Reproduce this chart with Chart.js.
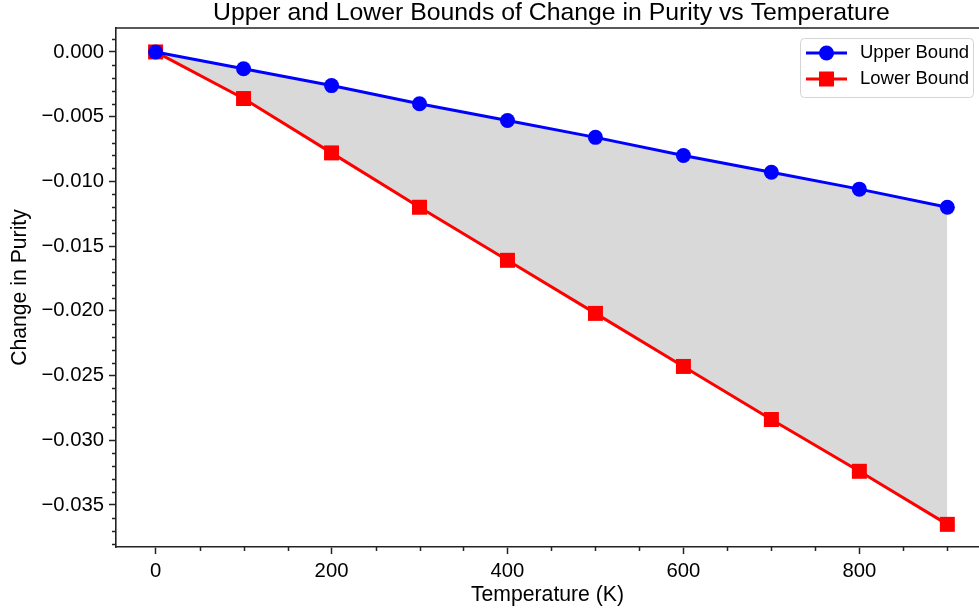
<!DOCTYPE html>
<html>
<head>
<meta charset="utf-8">
<script src="https://cdn.jsdelivr.net/npm/chart.js@4.4.1/dist/chart.umd.min.js"></script>
<style>
html,body{margin:0;padding:0;background:#fff;overflow:hidden;}
canvas{display:block;}
</style>
</head>
<body>
<canvas id="c" width="979" height="613"></canvas>
<script>
// ---- data ----
const temperatures = [0, 100, 200, 300, 400, 500, 600, 700, 800, 900];
const upperBound = [0, -0.0013, -0.0026, -0.0040, -0.0053, -0.0066, -0.0080, -0.0093, -0.0106, -0.0120];
const lowerBound = [0, -0.0036, -0.0078, -0.0120, -0.0161, -0.0202, -0.0243, -0.0284, -0.0324, -0.0365];
const xTickValues = [0, 200, 400, 600, 800];
const yTickValues = [0, -0.005, -0.010, -0.015, -0.020, -0.025, -0.030, -0.035];
const seriesNames = ['Upper Bound', 'Lower Bound'];
const titleText = 'Upper and Lower Bounds of Change in Purity vs Temperature';
const xLabel = 'Temperature (K)';
const yLabel = 'Change in Purity';

const FONT = '"Liberation Sans", Arial, Helvetica, sans-serif';
const AXIS_COLOR = '#222';
const X_MIN = -45, X_MAX_FULL = 945; // full axes extent (right spine lies past the window edge)

const toPts = (ys) => temperatures.map((t, i) => ({x: t, y: ys[i]}));

const fmtY = (v) => {
  const s = Math.abs(v).toFixed(3);
  return (v < -1e-12 ? '\u2212' : '') + s;
};

// title centred over the full axes
const axesTitle = {
  id: 'axesTitle',
  afterDraw(chart) {
    const ctx = chart.ctx;
    const xs = chart.scales.x;
    const cx = (xs.getPixelForValue(X_MIN) + xs.getPixelForValue(X_MAX_FULL)) / 2;
    ctx.save();
    ctx.fillStyle = '#000';
    ctx.font = '24.8px ' + FONT;
    ctx.textAlign = 'center';
    ctx.textBaseline = 'alphabetic';
    ctx.fillText(titleText, cx, chart.chartArea.top - 8);
    ctx.restore();
  }
};

// minor ticks + top spine
const minorTicks = {
  id: 'minorTicks',
  afterDraw(chart) {
    const ctx = chart.ctx;
    const xs = chart.scales.x, ys = chart.scales.y;
    const a = chart.chartArea;
    ctx.save();
    ctx.strokeStyle = AXIS_COLOR;
    ctx.lineWidth = 1.5;
    for (let v = -50; v <= 1000; v += 50) {
      if (v % 200 === 0) continue;
      const px = xs.getPixelForValue(v);
      if (px < a.left - 0.5 || px > a.right + 0.5) continue;
      ctx.beginPath();
      ctx.moveTo(Math.round(px) + 0.5, a.bottom);
      ctx.lineTo(Math.round(px) + 0.5, a.bottom + 4);
      ctx.stroke();
    }
    for (let k = -40; k <= 2; k++) {
      if (k % 5 === 0) continue;
      const v = k / 1000;
      const py = ys.getPixelForValue(v);
      if (py < a.top - 0.5 || py > a.bottom + 0.5) continue;
      ctx.beginPath();
      ctx.moveTo(a.left, Math.round(py) + 0.5);
      ctx.lineTo(a.left - 4, Math.round(py) + 0.5);
      ctx.stroke();
    }
    ctx.lineWidth = 1.6;
    ctx.beginPath();
    ctx.moveTo(a.left, a.top);
    ctx.lineTo(a.right, a.top);
    ctx.stroke();
    ctx.restore();
  }
};

// matplotlib-like legend
const mplLegend = {
  id: 'mplLegend',
  afterDraw(chart) {
    const ctx = chart.ctx;
    const a = chart.chartArea;
    const w = 173, h = 59;
    const x0 = a.right - 6 - w, y0 = a.top + 10;
    ctx.save();
    ctx.beginPath();
    ctx.roundRect(x0 + 0.5, y0 + 0.5, w, h, 4);
    ctx.fillStyle = 'rgba(255,255,255,0.8)';
    ctx.fill();
    ctx.strokeStyle = '#d4d4d4';
    ctx.lineWidth = 1;
    ctx.stroke();
    chart.data.datasets.forEach((ds, i) => {
      const cy = y0 + 15 + i * 26;
      const lx1 = x0 + 6, lx2 = x0 + 47, mx = (lx1 + lx2) / 2;
      ctx.strokeStyle = ds.borderColor;
      ctx.lineWidth = ds.borderWidth;
      ctx.beginPath();
      ctx.moveTo(lx1, cy);
      ctx.lineTo(lx2, cy);
      ctx.stroke();
      ctx.fillStyle = ds.pointBackgroundColor;
      if (ds.pointStyle === 'rect') {
        const s = ds.pointRadius * Math.SQRT1_2;
        ctx.fillRect(mx - s, cy - s, 2 * s, 2 * s);
      } else {
        ctx.beginPath();
        ctx.arc(mx, cy, ds.pointRadius, 0, Math.PI * 2);
        ctx.fill();
      }
      ctx.fillStyle = '#000';
      ctx.font = '18.5px ' + FONT;
      ctx.textBaseline = 'middle';
      ctx.textAlign = 'left';
      ctx.fillText(ds.label, x0 + 60, cy);
    });
    ctx.restore();
  }
};

new Chart(document.getElementById('c'), {
  type: 'line',
  data: {
    datasets: [
      {
        label: seriesNames[0],
        data: toPts(upperBound),
        borderColor: '#0000ff',
        backgroundColor: '#0000ff',
        pointBackgroundColor: '#0000ff',
        pointBorderColor: '#0000ff',
        pointBorderWidth: 0,
        borderWidth: 3,
        pointRadius: 7.5,
        pointHoverRadius: 7.5,
        pointStyle: 'circle',
        tension: 0,
        fill: false,
        clip: false
      },
      {
        label: seriesNames[1],
        data: toPts(lowerBound),
        borderColor: '#ff0000',
        backgroundColor: '#d9d9d9',
        pointBackgroundColor: '#ff0000',
        pointBorderColor: '#ff0000',
        pointBorderWidth: 0,
        borderWidth: 3,
        pointRadius: 10.6,
        pointHoverRadius: 10.6,
        pointStyle: 'rect',
        tension: 0,
        fill: '-1',
        clip: false
      }
    ]
  },
  options: {
    responsive: false,
    animation: false,
    devicePixelRatio: 1,
    layout: {autoPadding: false, padding: {left: 0, right: 0, top: 28, bottom: 0}},
    plugins: {
      legend: {display: false},
      tooltip: {enabled: false},
      filler: {drawTime: 'beforeDatasetsDraw'},
      title: {display: false}
    },
    scales: {
      x: {
        type: 'linear',
        min: X_MIN,
        max: 936,
        afterBuildTicks(scale) { scale.ticks = xTickValues.map(v => ({value: v})); },
        afterFit(scale) { scale.height = 66; scale.paddingLeft = 0; scale.paddingRight = 0; },
        grid: {drawOnChartArea: false, drawTicks: true, tickLength: 7, tickColor: AXIS_COLOR, tickWidth: 1.5},
        border: {display: true, color: AXIS_COLOR, width: 1.6},
        ticks: {
          color: '#000',
          font: {family: FONT, size: 20.3},
          padding: 5,
          maxRotation: 0,
          autoSkip: false,
          callback: (v) => String(v)
        },
        title: {
          display: true,
          text: xLabel,
          color: '#000',
          font: {family: FONT, size: 21.2},
          padding: {top: 0, bottom: 5}
        }
      },
      y: {
        type: 'linear',
        min: -0.03825,
        max: 0.00185,
        afterBuildTicks(scale) { scale.ticks = yTickValues.map(v => ({value: v})); },
        afterFit(scale) { scale.width = 116; scale.paddingTop = 0; scale.paddingBottom = 0; },
        grid: {drawOnChartArea: false, drawTicks: true, tickLength: 7, tickColor: AXIS_COLOR, tickWidth: 1.5},
        border: {display: true, color: AXIS_COLOR, width: 1.6},
        ticks: {
          color: '#000',
          font: {family: FONT, size: 20.3},
          padding: 5,
          autoSkip: false,
          callback: (v) => fmtY(v)
        },
        title: {
          display: true,
          text: yLabel,
          color: '#000',
          font: {family: FONT, size: 21.2},
          padding: {top: 7, bottom: 0}
        }
      }
    }
  },
  plugins: [minorTicks, mplLegend, axesTitle]
});
</script>
</body>
</html>
